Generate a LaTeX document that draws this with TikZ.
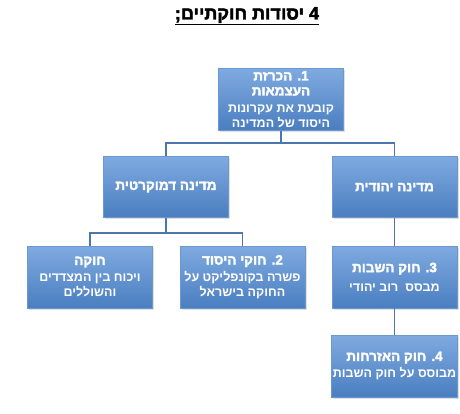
\documentclass[tikz,border=0pt]{standalone}
\usepackage{fontspec}
\setmainfont{Liberation Sans}
\newfontfamily\hebfont[Script=Hebrew]{Liberation Sans}
\newfontfamily\hebhead[Script=Hebrew, FakeBold=2.5]{Liberation Sans Bold}
\TeXXeTstate=1
\usetikzlibrary{shadows}

\definecolor{boxtop}{HTML}{7FAAE0}
\definecolor{boxbot}{HTML}{4A7EC0}
\definecolor{boxedge}{HTML}{6B98CF}
\definecolor{linkcol}{HTML}{4A78AE}

\newcommand{\heb}[1]{\beginR#1\endR}
\newcommand{\hd}[1]{{\hebhead\fontsize{13.5}{15}\selectfont\heb{#1}}}

\tikzset{
  stage/.style={draw=boxedge, line width=0.8pt, top color=boxtop, bottom color=boxbot,
    minimum width=125pt, minimum height=62pt, inner sep=1pt, align=center, text=white,
    font=\hebfont\fontsize{12.5}{15}\selectfont\bfseries,
    drop shadow={shadow xshift=1.5pt, shadow yshift=-1.5pt, opacity=0.25}},
  link/.style={draw=linkcol, line width=1.8pt}
}

\begin{document}
\begin{tikzpicture}[x=1pt, y=-1pt]
    \useasboundingbox (0,0) rectangle (460,414);
    \node[font=\hebhead\fontsize{18}{20}\selectfont] (title) at (247,16) {\underline{\heb{4 יסודות חוקתיים;}}};
    % top row
    \node[stage] (atzmaut) at (281,99.5) {\hd{1. הכרזת}\\ \hd{העצמאות}\\[2pt] \heb{קובעת את עקרונות}\\ \heb{היסוד של המדינה}};
    % second row
    \node[stage, minimum height=61pt] (demo) at (166,187) {\hd{מדינה דמוקרטית}};
    \node[stage, minimum height=61pt] (yehudit) at (394.5,187) {\hd{מדינה יהודית}};
    % third row
    \node[stage] (chuka) at (90,277) {\hd{חוקה}\\[2pt] \heb{ויכוח בין המצדדים}\\ \heb{והשוללים}};
    \node[stage] (yesod) at (242.5,277) {\hd{2. חוקי היסוד}\\[2pt] \heb{פשרה בקונפליקט על}\\ \heb{החוקה בישראל}};
    \node[stage] (shvut) at (394.5,277) {\hd{3. חוק השבות}\\[4pt] \heb{מבסס~~רוב יהודי}};
    \node[stage] (ezrach) at (394.5,366) {\hd{4. חוק האזרחות}\\[2pt] \heb{מבוסס על חוק השבות}};
    % connectors
    \coordinate (top fork) at (281,143);
    \coordinate (demo fork) at (166,233);
    \draw[link] (atzmaut.south) -- (top fork) -| (demo.north);
    \draw[link] (top fork) -| (yehudit.north);
    \draw[link] (demo.south) -- (demo fork) -| (chuka.north);
    \draw[link] (demo fork) -| (yesod.north);
    \draw[link] (yehudit.south) -- (shvut.north);
    \draw[link] (shvut.south) -- (ezrach.north);
\end{tikzpicture}
\end{document}
